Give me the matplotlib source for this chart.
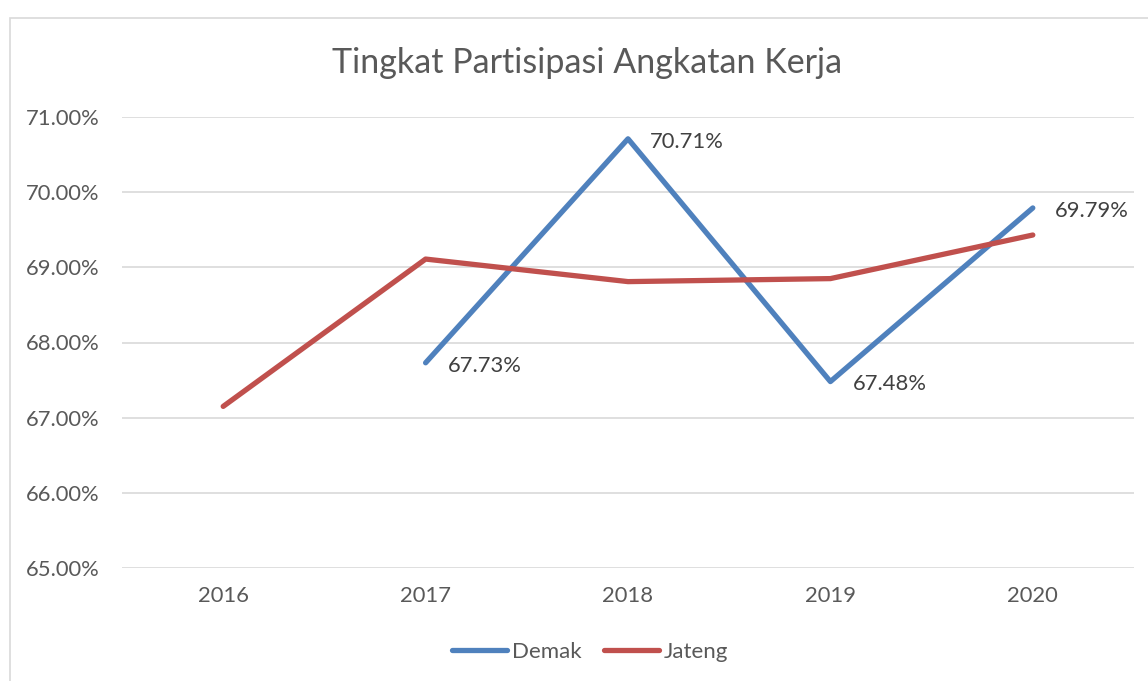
import matplotlib.pyplot as plt
from matplotlib.patches import Rectangle
from matplotlib.ticker import FuncFormatter
import numpy as np

# Data TPAK (%)
tahun = ['2016', '2017', '2018', '2019', '2020']
demak = [np.nan, 67.73, 70.71, 67.48, 69.79]
jateng = [67.15, 69.11, 68.81, 68.85, 69.43]

plt.rcParams['font.family'] = ['Lato', 'DejaVu Sans']
teks = '#595959'

fig = plt.figure(figsize=(11.48, 6.81), dpi=100)

# Bingkai chart
fig.patches.append(Rectangle((10 / 1148, -0.1), 2, (681 - 18) / 681 + 0.1,
                             transform=fig.transFigure, fill=False,
                             edgecolor='#d9d9d9', linewidth=1.2))

ax = fig.add_axes([122 / 1148, 113 / 681, 1012 / 1148, 451 / 681])
x = np.arange(len(tahun))

ax.plot(x, demak, color='#4f81bd', linewidth=3.8, solid_capstyle='round',
        solid_joinstyle='round', label='Demak', zorder=3)
ax.plot(x, jateng, color='#c0504d', linewidth=3.8, solid_capstyle='round',
        solid_joinstyle='round', label='Jateng', zorder=3)

# Label nilai untuk Demak
for xi, v in zip(x, demak):
    if np.isnan(v):
        continue
    ax.annotate(f'{v:.2f}%', (xi, v), xytext=(16, -2), textcoords='offset points',
                ha='left', va='center', fontsize=15.8, color='#404040')

ax.set_xlim(-0.5, len(tahun) - 0.5)
ax.set_ylim(65, 71)
ax.set_yticks(np.arange(65, 71.01, 1))
ax.yaxis.set_major_formatter(FuncFormatter(lambda v, p: f'{v:.2f}%'))
ax.set_xticks(x)
ax.set_xticklabels(tahun)
ax.grid(axis='y', color='#d9d9d9', linewidth=1.2)
ax.set_axisbelow(True)
for s in ax.spines.values():
    s.set_visible(False)
ax.tick_params(length=0, labelsize=15.8, labelcolor=teks)
ax.tick_params(axis='y', pad=16)
ax.tick_params(axis='x', pad=13)

fig.text(587 / 1148, 1 - 63 / 681, 'Tingkat Partisipasi Angkatan Kerja',
         ha='center', va='center', fontsize=24.5, color=teks)

fig.legend(loc='center', bbox_to_anchor=(590 / 1148, 1 - 652 / 681), ncol=2,
           frameon=False, fontsize=16, labelcolor=teks, handlelength=2.5,
           handletextpad=0.2, columnspacing=1.0)

plt.savefig('out.png', dpi=100)
